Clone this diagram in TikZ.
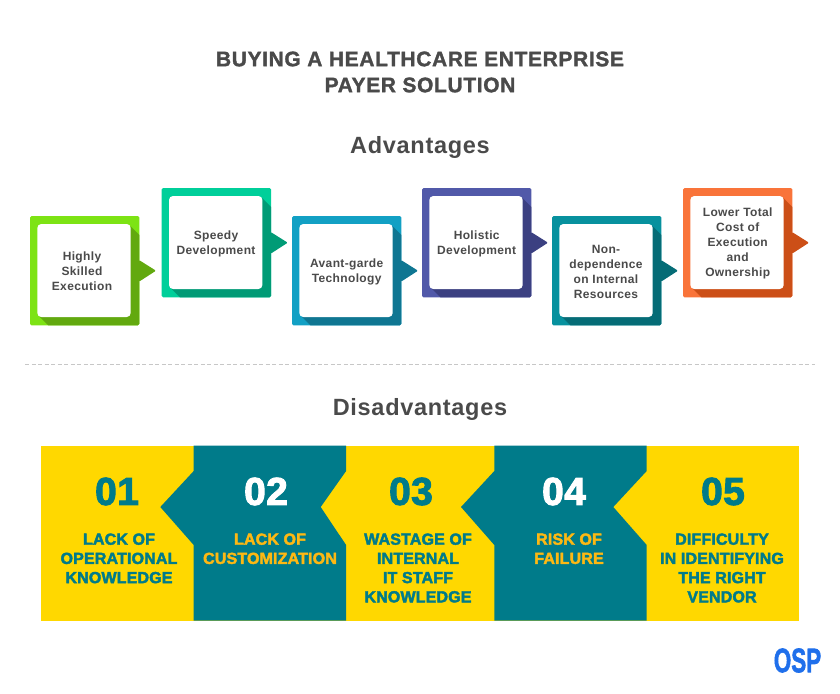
\documentclass[tikz,border=0pt]{standalone}
\usepackage{fontspec}
\setmainfont{Liberation Sans}
\newfontfamily\labelfont[UprightFont=* Bold,LetterSpace=3]{Liberation Sans}
\newfontfamily\titlefont[UprightFont=* Bold,FakeBold=1.5,LetterSpace=3]{Liberation Sans}
\newfontfamily\heavyfont[UprightFont=* Bold,FakeBold=2.5,LetterSpace=1]{Liberation Sans}
\newfontfamily\logofont[UprightFont=* Bold,FakeBold=2]{Liberation Sans}
\definecolor{inkgray}{HTML}{4A4A4A}
\definecolor{sunyellow}{HTML}{FFD800}
\definecolor{deepteal}{HTML}{007B8A}
\definecolor{amberink}{HTML}{FDB813}
\definecolor{logoblue}{HTML}{1F6FEB}
\definecolor{limeA}{HTML}{7DE314}\definecolor{limeB}{HTML}{62A90F}
\definecolor{mintA}{HTML}{00CF9A}\definecolor{mintB}{HTML}{009B76}
\definecolor{skyA}{HTML}{12A0C4}\definecolor{skyB}{HTML}{0F7692}
\definecolor{indigoA}{HTML}{5159A9}\definecolor{indigoB}{HTML}{3B4081}
\definecolor{tealA}{HTML}{07919E}\definecolor{tealB}{HTML}{056C76}
\definecolor{rustA}{HTML}{F9743A}\definecolor{rustB}{HTML}{CC4F17}
\tikzset{
  title/.style={text=inkgray, font=\titlefont\fontsize{21}{26}\selectfont, align=center},
  subtitle/.style={text=inkgray, font=\labelfont\fontsize{23.5}{28}\selectfont},
  steplabel/.style={text=inkgray, font=\labelfont\fontsize{12}{15}\selectfont, align=center},
  number/.style={font=\heavyfont\fontsize{39}{39}\selectfont},
  reason/.style={font=\heavyfont\fontsize{16}{19.2}\selectfont, align=center},
}
\begin{document}
\begin{tikzpicture}[x=1pt,y=-1pt]
\useasboundingbox (0,0) rectangle (840,693);
\node[title] (heading) at (420,72) {BUYING A HEALTHCARE ENTERPRISE\\PAYER SOLUTION};
\node[subtitle] (advantages) at (420,147) {Advantages};
\node[subtitle] (disadvantages) at (420,409) {Disadvantages};
% advantage boxes
\foreach \bx/\by/\tx/\light/\dark/\name/\txt in {
  30/216/52/limeA/limeB/highly/{Highly\\Skilled\\Execution},
  161.7/188/54.3/mintA/mintB/speedy/{Speedy\\Development},
  292/216/54.7/skyA/skyB/avant/{Avant-garde\\Technology},
  422/188/54.7/indigoA/indigoB/holistic/{Holistic\\Development},
  552/216/54/tealA/tealB/nondep/{Non-\\dependence\\on Internal\\Resources},
  683/188/54.7/rustA/rustB/lower/{Lower Total\\Cost of\\Execution\\and\\Ownership}}{
  \begin{scope}[shift={(\bx,\by)}]
    \fill[\light,rounded corners=1.5] (0,0) rectangle (109.3,109.3);
    \fill[\dark,rounded corners=1] (109,44) -- (126,54.7) -- (109,65.7) -- cycle;
    \fill[\dark] (100.7,10.4) -- (109.3,19) -- (109.3,107.8) arc[start angle=0,end angle=90,radius=1.5]
      -- (18.3,109.3) -- (10,101) -- cycle;
    \fill[white,rounded corners=4] (7.3,8) rectangle (100.7,101);
    \node[steplabel] (\name) at (\tx,55.5) {\txt};
  \end{scope}
}
\draw[black!22,dashed,dash pattern=on 4pt off 2.5pt] (25,364) -- (815,364);
% disadvantage band
\fill[sunyellow] (41,445.7) rectangle (799.3,620.7);
\foreach \tx/\ltip/\rtip in {193.7/160.3/320.7, 494.3/461/613.3}{
  \fill[deepteal] (\tx,445.7) -- (\tx+152.4,445.7) -- (\tx+152.4,471) -- (\rtip,507) -- (\tx+152.4,545)
    -- (\tx+152.4,620.7) -- (\tx,620.7) -- (\tx,545) -- (\ltip,507) -- (\tx,471) -- cycle;
}
\node[number,text=deepteal] (n1) at (117,491.5) {01};
\node[number,text=white] (n2) at (266,491.5) {02};
\node[number,text=deepteal] (n3) at (411,491.5) {03};
\node[number,text=white] (n4) at (564,491.5) {04};
\node[number,text=deepteal] (n5) at (723,491.5) {05};
\node[reason,text=deepteal,anchor=north] (r1) at (119,530) {LACK OF\\OPERATIONAL\\KNOWLEDGE};
\node[reason,text=amberink,anchor=north] (r2) at (270,530) {LACK OF\\CUSTOMIZATION};
\node[reason,text=deepteal,anchor=north] (r3) at (418,530) {WASTAGE OF\\INTERNAL\\IT STAFF\\KNOWLEDGE};
\node[reason,text=amberink,anchor=north] (r4) at (569,530) {RISK OF\\FAILURE};
\node[reason,text=deepteal,anchor=north] (r5) at (722,530) {DIFFICULTY\\IN IDENTIFYING\\THE RIGHT\\VENDOR};
\node[text=logoblue,font=\logofont\fontsize{34}{34}\selectfont,xscale=.66] (logo) at (797.5,660.5) {OSP};
\end{tikzpicture}
\end{document}
